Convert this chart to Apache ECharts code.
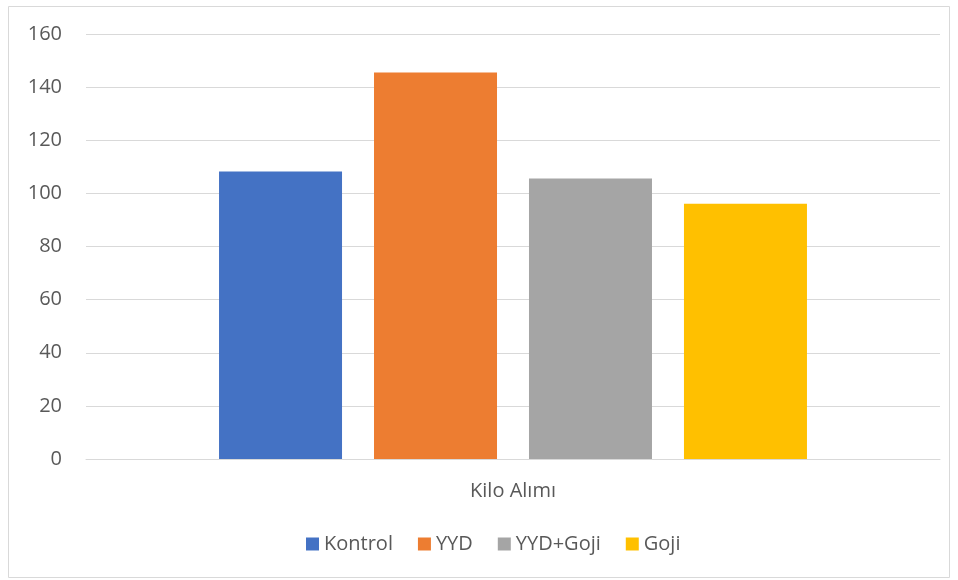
<!DOCTYPE html>
<html>
<head>
<meta charset="utf-8">
<script src="https://cdn.jsdelivr.net/npm/echarts@6/dist/echarts.min.js"></script>
<style>
  html, body { margin: 0; padding: 0; background: #fff; }
  #main { width: 958px; height: 580px; }
</style>
</head>
<body>
<div id="main"></div>
<script>
var myChart = echarts.init(document.getElementById('main'));

var categories = ['Kilo Alımı'];
var seriesNames = ['Kontrol', 'YYD', 'YYD+Goji', 'Goji'];
var seriesValues = [108.2, 145.5, 105.6, 96.1];
var colorList = ['#4472c4', '#ed7d31', '#a5a5a5', '#ffc000'];
var yTicks = { min: 0, max: 160, interval: 20 };

var fontFamily = '"Open Sans", "Noto Sans", sans-serif';

var series = seriesNames.map(function (name, i) {
    return {
        name: name,
        type: 'bar',
        barWidth: 123,
        barGap: '26%',
        itemStyle: { color: colorList[i] },
        data: [seriesValues[i]]
    };
});

option = {
    backgroundColor: '#fff',
    animation: false,
    color: colorList,
    graphic: [{
        type: 'rect',
        shape: { x: 8.5, y: 6.5, width: 941, height: 571 },
        style: { fill: 'none', stroke: '#d9d9d9', lineWidth: 1 },
        silent: true
    }],
    grid: {
        left: 86,
        right: 18,
        top: 34,
        bottom: 121
    },
    legend: {
        top: 529,
        left: 301,
        itemWidth: 13,
        itemHeight: 13,
        itemGap: 25,
        icon: 'rect',
        textStyle: {
            color: '#595959',
            fontSize: 20,
            fontFamily: fontFamily
        },
        data: seriesNames
    },
    xAxis: {
        type: 'category',
        data: categories,
        axisLine: { lineStyle: { color: '#d9d9d9' } },
        axisTick: { show: false },
        axisLabel: {
            color: '#595959',
            fontSize: 20,
            fontFamily: fontFamily,
            margin: 22
        }
    },
    yAxis: {
        type: 'value',
        min: yTicks.min,
        max: yTicks.max,
        interval: yTicks.interval,
        axisLine: { show: false },
        axisTick: { show: false },
        splitLine: { lineStyle: { color: '#d9d9d9' } },
        axisLabel: {
            color: '#595959',
            fontSize: 20,
            fontFamily: fontFamily,
            margin: 24
        }
    },
    series: series
};

myChart.setOption(option);
</script>
</body>
</html>
